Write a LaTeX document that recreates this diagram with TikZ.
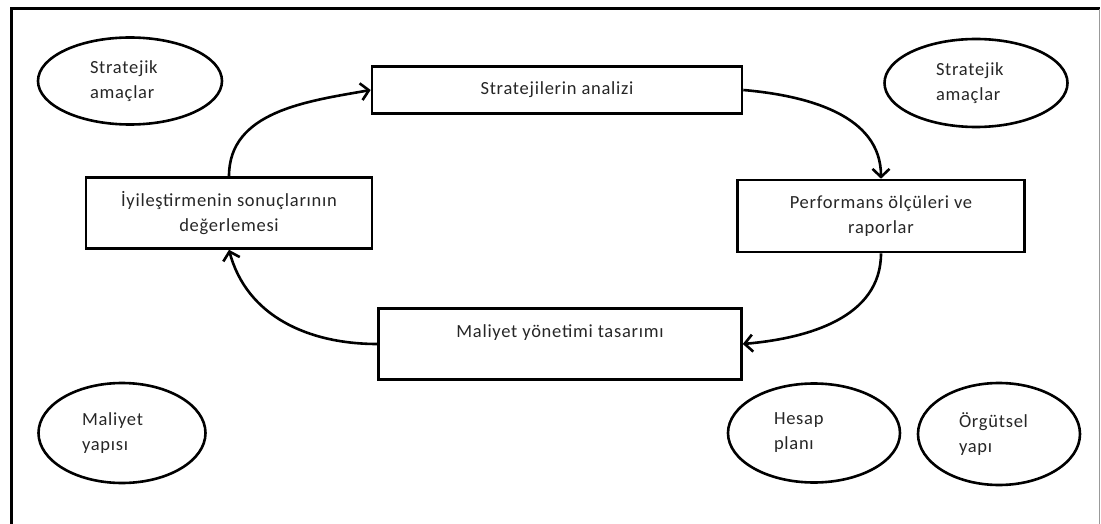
\documentclass[tikz,border=0pt]{standalone}
\usepackage{fontspec}
\setmainfont{Carlito}[LetterSpace=4]
\usetikzlibrary{shapes.geometric,arrows.meta}

\begin{document}
\begin{tikzpicture}[x=1pt, y=-1pt,
  box node/.style={rectangle, draw, line width=2.6pt, align=center, inner sep=0pt},
  oval node/.style={ellipse, draw, line width=2.6pt, text width=80pt, align=left, inner sep=0pt},
  flow/.style={-{Straight Barb[length=8pt,width=17pt]}, line width=2.6pt}]
  \tikzstyle{every node}=[font=\fontsize{18.5}{25}\selectfont, text=black!85]

  \useasboundingbox (0,0) rectangle (1101,524);
  \draw[line width=3pt] (11,524) -- (11,9) -- (1100,9);
  \draw[black!40, line width=0.6pt] (1099.5,9) -- (1099.5,524);

  % cycle boxes
  \node[box node, minimum width=370pt, minimum height=47pt] (analiz) at (557,90) {Stratejilerin analizi};
  \node[box node, minimum width=287pt, minimum height=72pt] (perf) at (881,216) {Performans ölçüleri ve\\raporlar};
  \node[box node, minimum width=363pt, minimum height=71pt] (tasarim) at (560,344) {Maliyet yönetimi tasarımı\\~};
  \node[box node, minimum width=286pt, minimum height=71pt] (deger) at (229,213) {İyileştirmenin sonuçlarının\\değerlemesi};

  % ovals
  \node[oval node, minimum width=184pt, minimum height=87pt] (amac1) at (130,81) {Stratejik\\amaçlar};
  \node[oval node, minimum width=183pt, minimum height=88pt] (amac2) at (976,83) {Stratejik\\amaçlar};
  \node[oval node, minimum width=167pt, minimum height=100pt] (yapi) at (122,433) {Maliyet\\yapısı};
  \node[oval node, minimum width=172pt, minimum height=99pt] (plan) at (814,433) {Hesap\\planı};
  \node[oval node, minimum width=162pt, minimum height=102pt] (orgut) at (999,434) {Örgütsel\\yapı};

  \path[flow]
    (deger.north) edge[out=90, in=190] (analiz.west)
    (analiz.east) edge[out=-5, in=90] (perf.north)
    (perf.south) edge[out=-90, in=5] (tasarim.east)
    (tasarim.west) edge[out=180, in=-75] (deger.south);
\end{tikzpicture}
\end{document}
